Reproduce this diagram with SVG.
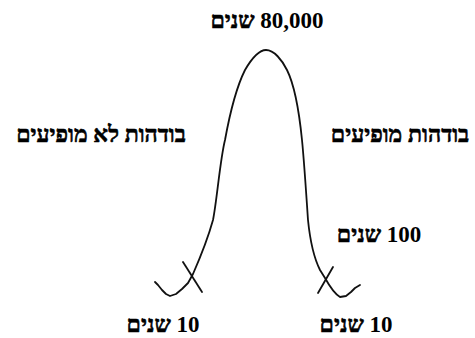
<svg xmlns="http://www.w3.org/2000/svg" width="475" height="338" viewBox="0 0 475 338">
<style>
.t{font-family:"Liberation Serif","Frank Ruehl CLM","David CLM","Times New Roman",serif;font-weight:bold;font-size:23px;fill:#000;text-anchor:middle;direction:rtl;unicode-bidi:embed}
.h{stroke:#000;stroke-width:0.6;stroke-linejoin:round}
.c{fill:none;stroke:#111;stroke-width:1.8;stroke-linecap:round;stroke-linejoin:round}
</style>
<rect width="475" height="338" fill="#fff"/>
<g id="curve">
<path class="c" d="M155,282 L158,285 L162,290 L166,294 L170,296 L176,294 L182,289 L188,283 L193,274 C200,258 208,238 213,220 C217,200 220,160 225,140 C229,118 236,88 245,70 C252,58 259,50 266,50 C274,50 282,60 287,70 C294,84 299,110 302,140 C304,160 306,190 308,220 C310,240 314,258 320,270 L325,278 C330,287 335,294 340,297 L346,296 L351,292 L355,288 L360,285"/>
<path class="c" d="M183,262 L202,292"/>
<path class="c" d="M333,267 L318,293"/>
</g>
<g id="label-top"><text class="t" x="267" y="28">80,000 <tspan class="h">שנים</tspan></text></g>
<g id="label-left"><text class="t h" x="101" y="142">בודהות לא מופיעים</text></g>
<g id="label-right"><text class="t h" x="400" y="142">בודהות מופיעים</text></g>
<g id="label-100"><text class="t" x="379" y="242">100 <tspan class="h">שנים</tspan></text></g>
<g id="label-10-left"><text class="t" x="163" y="332">10 <tspan class="h">שנים</tspan></text></g>
<g id="label-10-right"><text class="t" x="356" y="332">10 <tspan class="h">שנים</tspan></text></g>
</svg>
